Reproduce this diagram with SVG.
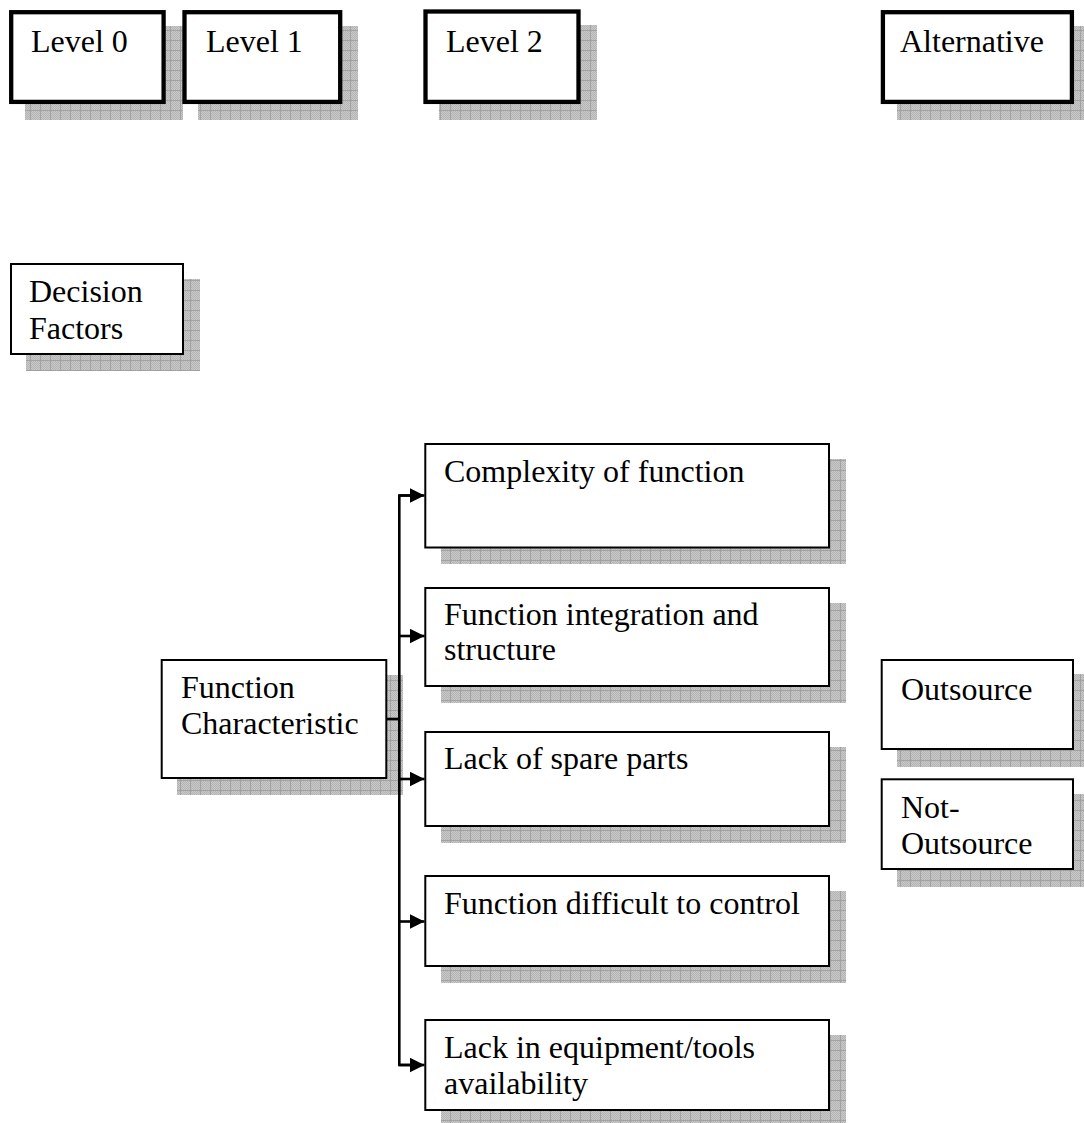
<svg xmlns="http://www.w3.org/2000/svg" width="1084" height="1123" viewBox="0 0 1084 1123">
  <defs>
    <!-- fine dither used inside the shadow grid -->
    <pattern id="dither" width="2" height="2" patternUnits="userSpaceOnUse">
      <rect width="2" height="2" fill="#c9c9c9"/>
      <rect width="1" height="1" fill="#b4b4b4"/>
      <rect x="1" y="1" width="1" height="1" fill="#b4b4b4"/>
    </pattern>
    <!-- hatched grid shadow -->
    <pattern id="grid" width="10" height="10" patternUnits="userSpaceOnUse">
      <rect width="10" height="10" fill="url(#dither)"/>
      <path d="M0.5,0 V10 M0,0.5 H10" stroke="#a2a2a2" stroke-width="1" fill="none"/>
    </pattern>
    <marker id="arrow" markerUnits="userSpaceOnUse" markerWidth="16" markerHeight="16" refX="15" refY="7.5" orient="auto">
      <path d="M0,0 L15,7.5 L0,15 Z" fill="#000"/>
    </marker>
  </defs>
  <style>
    .shadow { fill: url(#grid); }
    .box { fill: #fff; stroke: #000; stroke-width: 2; }
    .boxHeavy { fill: #fff; stroke: #000; stroke-width: 4.3; }
    .label { font-family: "Liberation Serif", "Times New Roman", serif; font-size: 32px; fill: #000; }
    .wire { fill: none; stroke: #000; stroke-width: 2.6; }
  </style>

  <rect width="1084" height="1123" fill="#fff"/>

  <!-- header row -->
  <g id="level0">
    <rect class="shadow" x="25" y="26" width="158" height="94"/>
    <rect class="boxHeavy" x="11.2" y="12.2" width="152.4" height="89.7"/>
    <text class="label" x="31" y="52">Level 0</text>
  </g>
  <g id="level1">
    <rect class="shadow" x="198" y="26" width="160" height="94"/>
    <rect class="boxHeavy" x="184.5" y="12.2" width="155.7" height="89.7"/>
    <text class="label" x="206" y="52">Level 1</text>
  </g>
  <g id="level2">
    <rect class="shadow" x="439" y="25" width="158" height="95"/>
    <rect class="boxHeavy" x="425.5" y="11.5" width="153" height="90.4"/>
    <text class="label" x="446" y="52">Level 2</text>
  </g>
  <g id="alternative">
    <rect class="shadow" x="897" y="26" width="193" height="94"/>
    <rect class="boxHeavy" x="882.9" y="12.2" width="189" height="89.7"/>
    <text class="label" x="900" y="52">Alternative</text>
  </g>

  <g id="decision-factors">
    <rect class="shadow" x="26" y="279" width="174" height="92"/>
    <rect class="box" x="11" y="264" width="172" height="90"/>
    <text class="label" x="29" y="302">Decision</text>
    <text class="label" x="29" y="339">Factors</text>
  </g>

  <!-- level 0 node -->
  <g id="function-characteristic">
    <rect class="shadow" x="177" y="675" width="226" height="120"/>
    <rect class="box" x="161.7" y="660" width="224.6" height="118"/>
    <text class="label" x="181" y="698">Function</text>
    <text class="label" x="181" y="734">Characteristic</text>
  </g>

  <!-- level 1 nodes -->
  <g id="complexity">
    <rect class="shadow" x="441" y="459" width="405" height="105"/>
    <rect class="box" x="425.3" y="444" width="403.7" height="103.5"/>
    <text class="label" x="444" y="482">Complexity of function</text>
  </g>
  <g id="integration">
    <rect class="shadow" x="441" y="603" width="405" height="100"/>
    <rect class="box" x="425.3" y="588" width="403.7" height="98"/>
    <text class="label" x="444" y="625">Function integration and</text>
    <text class="label" x="444" y="660">structure</text>
  </g>
  <g id="spare-parts">
    <rect class="shadow" x="441" y="747" width="405" height="96"/>
    <rect class="box" x="425.3" y="732" width="403.7" height="94"/>
    <text class="label" x="444" y="769">Lack of spare parts</text>
  </g>
  <g id="control">
    <rect class="shadow" x="441" y="891" width="405" height="92"/>
    <rect class="box" x="425.3" y="876" width="403.7" height="90"/>
    <text class="label" x="444" y="914">Function difficult to control</text>
  </g>
  <g id="equipment">
    <rect class="shadow" x="441" y="1035" width="405" height="92"/>
    <rect class="box" x="425.3" y="1020" width="403.7" height="90"/>
    <text class="label" x="444" y="1058">Lack in equipment/tools</text>
    <text class="label" x="444" y="1094">availability</text>
  </g>

  <!-- alternatives -->
  <g id="outsource">
    <rect class="shadow" x="897" y="674" width="193" height="93"/>
    <rect class="box" x="881.7" y="660" width="191.3" height="89"/>
    <text class="label" x="901" y="700">Outsource</text>
  </g>
  <g id="not-outsource">
    <rect class="shadow" x="897" y="794" width="193" height="93"/>
    <rect class="box" x="881.7" y="779.3" width="191.3" height="89.7"/>
    <text class="label" x="901" y="818">Not-</text>
    <text class="label" x="901" y="854">Outsource</text>
  </g>

  <!-- connectors -->
  <g id="connectors">
    <path class="wire" d="M387,719 H399.3"/>
    <path class="wire" d="M410,495.5 H399.3 V1065 H410"/>
    <line class="wire" x1="399.3" y1="495.5" x2="424.5" y2="495.5" marker-end="url(#arrow)"/>
    <line class="wire" x1="399.3" y1="636" x2="424.5" y2="636" marker-end="url(#arrow)"/>
    <line class="wire" x1="399.3" y1="779" x2="424.5" y2="779" marker-end="url(#arrow)"/>
    <line class="wire" x1="399.3" y1="921.5" x2="424.5" y2="921.5" marker-end="url(#arrow)"/>
    <line class="wire" x1="399.3" y1="1065" x2="424.5" y2="1065" marker-end="url(#arrow)"/>
  </g>
</svg>
